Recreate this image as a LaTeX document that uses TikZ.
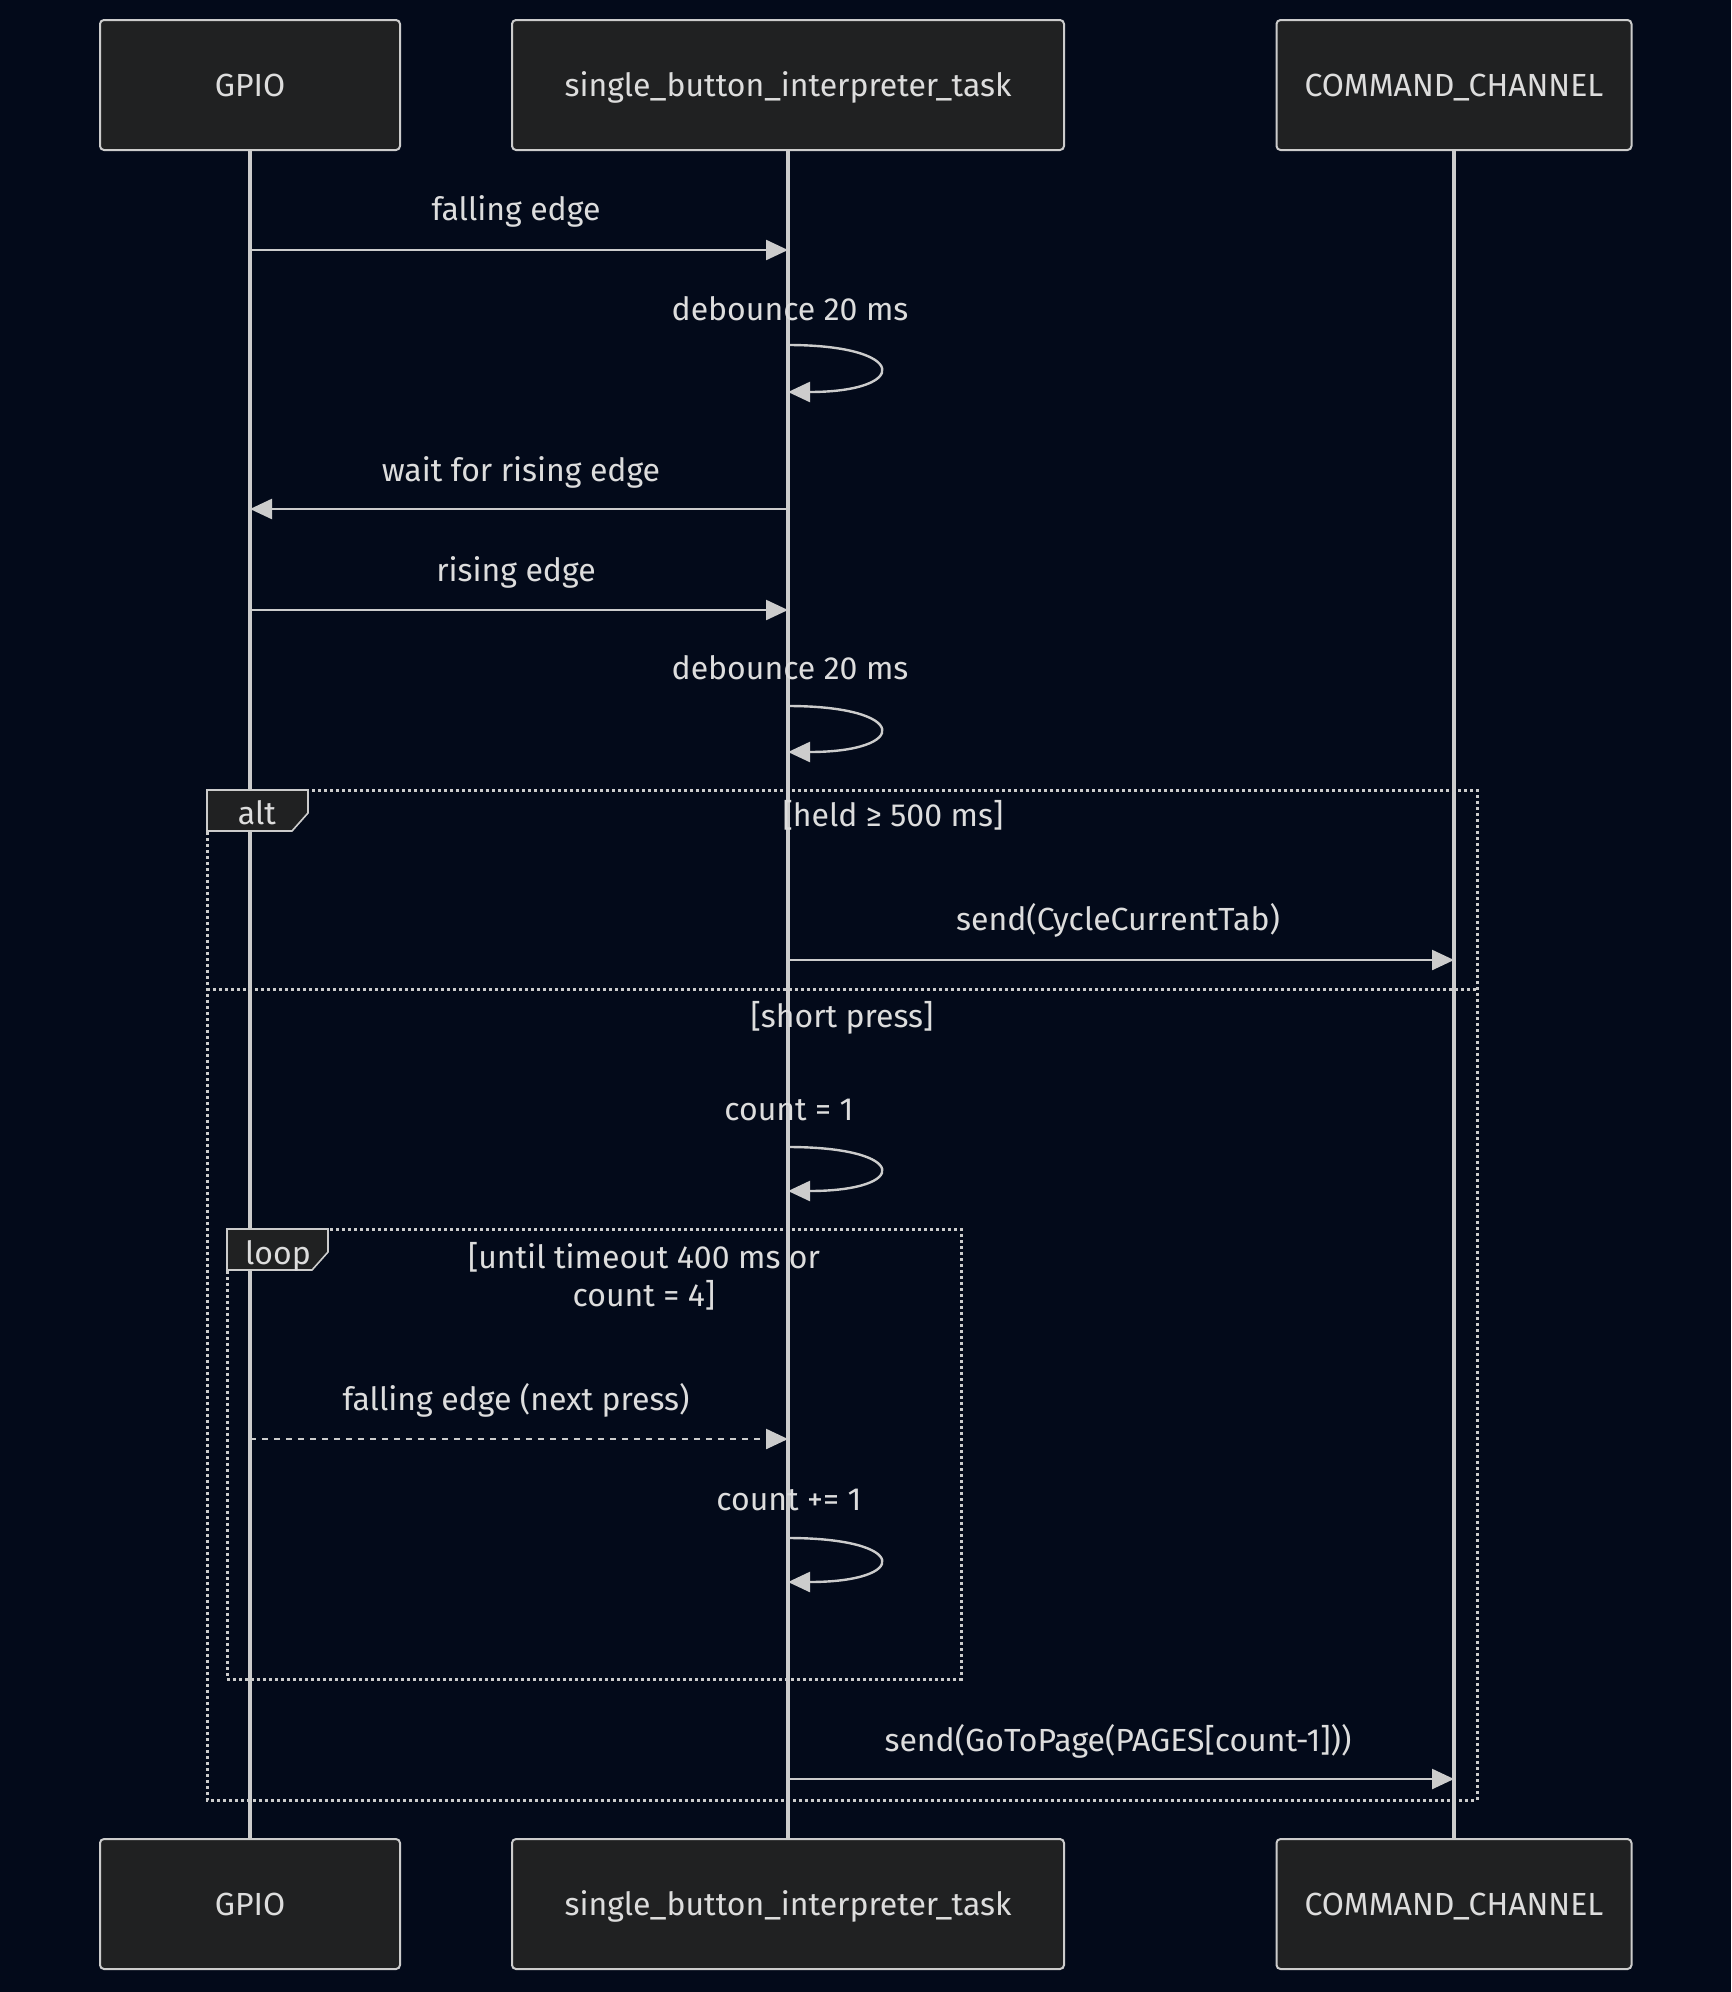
\documentclass[tikz,border=0pt]{standalone}
\usepackage{fontspec}
\setmainfont{Fira Sans}
\usetikzlibrary{arrows.meta}

\definecolor{bgnavy}{HTML}{030A1A}
\definecolor{boxfill}{HTML}{202122}
\definecolor{linegray}{HTML}{CCCCCC}
\definecolor{textgray}{HTML}{DDDDDD}

\tikzset{
  actor/.style={draw=linegray, line width=1pt, fill=boxfill, rounded corners=2pt,
    minimum height=65pt, inner sep=0pt, text height=11.5pt, text depth=0pt},
  txt/.style={text height=11.5pt, text depth=0pt},
  lifeline/.style={draw=linegray, line width=1.6pt},
  msg/.style={draw=linegray, line width=1.2pt, -{Triangle[length=11pt,width=10pt]}},
  msgdash/.style={msg, dash pattern=on 3pt off 3pt},
  frame/.style={draw=linegray, line width=1.5pt, dash pattern=on 1.5pt off 1.5pt},
  tab/.style={draw=linegray, line width=0.8pt, fill=boxfill},
}

\begin{document}
\begin{tikzpicture}[x=0.5pt, y=-0.5pt, font=\fontsize{16}{19}\selectfont, text=textgray]

  % Page and background
  \fill[bgnavy] (0,0) rectangle (1731,1992);
  \useasboundingbox (0,0) rectangle (1731,1992);

  % Participants, top and bottom
  \node[actor, minimum width=150pt] (gpioTop) at (250,85) {GPIO};
  \node[actor, minimum width=276pt] (taskTop) at (788,85) {single\_button\_interpreter\_task};
  \node[actor, minimum width=177.5pt] (chanTop) at (1454,85) {COMMAND\_CHANNEL};
  \node[actor, minimum width=150pt] (gpioBot) at (250,1904) {GPIO};
  \node[actor, minimum width=276pt] (taskBot) at (788,1904) {single\_button\_interpreter\_task};
  \node[actor, minimum width=177.5pt] (chanBot) at (1454,1904) {COMMAND\_CHANNEL};

  % Lifelines
  \foreach \p in {gpio,task,chan}
    \draw[lifeline] (\p Top) -- (\p Bot);

  % Frames: alt and loop
  \draw[frame] (207,790) rectangle (1477,1800);
  \draw[frame] (207,989) -- (1477,989);
  \draw[frame] (227,1229) rectangle (961,1679);
  \draw[tab] (207,790) -- (308,790) -- (308,813) -- (292,831) -- (207,831) -- cycle;
  \draw[tab] (227,1229) -- (328,1229) -- (328,1252) -- (312,1270) -- (227,1270) -- cycle;
  \node[txt] (altLabel) at (257,813) {alt};
  \node[txt] (loopLabel) at (278,1253) {loop};
  \node[txt] (heldCond) at (893,815) {[held ≥ 500 ms]};
  \node[txt] (shortCond) at (842,1016) {[short press]};
  \node[align=center] (loopCond) at (644,1276) {[until timeout 400 ms or\\count = 4]};

  % Points on the lifelines
  \coordinate (g1) at (gpioTop |- 0,250);  \coordinate (t1) at (taskTop |- 0,250);
  \coordinate (s1a) at (taskTop |- 0,345); \coordinate (s1b) at (taskTop |- 0,392);
  \coordinate (t2) at (taskTop |- 0,509);  \coordinate (g2) at (gpioTop |- 0,509);
  \coordinate (g3) at (gpioTop |- 0,610);  \coordinate (t3) at (taskTop |- 0,610);
  \coordinate (s2a) at (taskTop |- 0,706); \coordinate (s2b) at (taskTop |- 0,752);
  \coordinate (t4) at (taskTop |- 0,960);  \coordinate (c4) at (chanTop |- 0,960);
  \coordinate (s3a) at (taskTop |- 0,1147); \coordinate (s3b) at (taskTop |- 0,1191);
  \coordinate (g5) at (gpioTop |- 0,1439); \coordinate (t5) at (taskTop |- 0,1439);
  \coordinate (s4a) at (taskTop |- 0,1538); \coordinate (s4b) at (taskTop |- 0,1582);
  \coordinate (t6) at (taskTop |- 0,1779); \coordinate (c6) at (chanTop |- 0,1779);

  % Messages
  \draw[msg] (g1) -- (t1);
  \node[txt] (fallLabel) at (516,209) {falling edge};
  \draw[msg] (s1a) .. controls +(122,0) and +(122,0) .. (s1b);
  \node[txt] (deb1Label) at (790,309) {debounce 20 ms};
  \draw[msg] (t2) -- (g2);
  \node[txt] (waitLabel) at (521,470) {wait for rising edge};
  \draw[msg] (g3) -- (t3);
  \node[txt] (riseLabel) at (516,570) {rising edge};
  \draw[msg] (s2a) .. controls +(122,0) and +(122,0) .. (s2b);
  \node[txt] (deb2Label) at (790,668) {debounce 20 ms};
  \draw[msg] (t4) -- (c4);
  \node[txt] (cycleLabel) at (1118,919) {send(CycleCurrentTab)};
  \draw[msg] (s3a) .. controls +(122,0) and +(122,0) .. (s3b);
  \node[txt] (countLabel) at (789,1109) {count = 1};
  \draw[msgdash] (g5) -- (t5);
  \node[txt] (nextLabel) at (516,1399) {falling edge (next press)};
  \draw[msg] (s4a) .. controls +(122,0) and +(122,0) .. (s4b);
  \node[txt] (incLabel) at (789,1499) {count += 1};
  \draw[msg] (t6) -- (c6);
  \node[txt] (gotoLabel) at (1118,1740) {send(GoToPage(PAGES[count-1]))};

\end{tikzpicture}
\end{document}
